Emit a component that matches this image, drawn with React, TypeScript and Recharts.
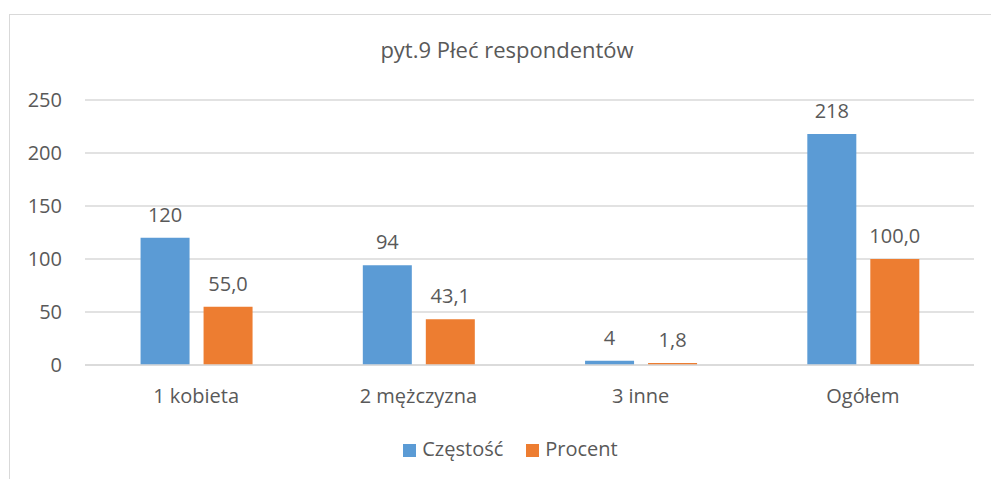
import { BarChart, Bar, XAxis, YAxis, CartesianGrid, Legend, LabelList } from 'recharts'

const categories = ['1 kobieta', '2 mężczyzna', '3 inne', 'Ogółem']
const czestosc = [120, 94, 4, 218]
const procent = [55.0, 43.1, 1.8, 100.0]
const yTicks = [0, 50, 100, 150, 200, 250]

const chartData = categories.map((name, i) => ({ name, czestosc: czestosc[i], procent: procent[i] }))

const FONT = '"Open Sans", sans-serif'
const TEXT = '#595959'

export default function App() {
  return (
    <div style={{ position: 'fixed', left: 0, top: 0, width: 991, height: 479, background: '#fff', overflow: 'hidden', fontFamily: FONT }}>
      <div style={{ position: 'absolute', left: 9, top: 14, width: 1000, height: 500, border: '1px solid #d9d9d9' }} />
      <div style={{ position: 'absolute', left: 0, top: 34, width: 1014, textAlign: 'center', fontSize: 22, color: TEXT }}>
        pyt.9 Płeć respondentów
      </div>
      <BarChart
        width={991}
        height={479}
        data={chartData}
        margin={{ top: 100, right: 17, bottom: 54, left: 0 }}
        barCategoryGap="25%"
        barGap={14}
        style={{ position: 'absolute', left: 0, top: 0 }}
      >
        <CartesianGrid vertical={false} stroke="#d9d9d9" strokeWidth={1.5} />
        <XAxis
          dataKey="name"
          axisLine={{ stroke: '#d9d9d9', strokeWidth: 1.5 }}
          tickLine={false}
          tickMargin={18}
          tick={{ fill: TEXT, fontSize: 20, fontFamily: FONT }}
        />
        <YAxis
          width={85}
          domain={[0, 250]}
          ticks={yTicks}
          axisLine={false}
          tickLine={false}
          tickSize={0}
          tickMargin={23}
          tick={{ fill: TEXT, fontSize: 20, fontFamily: FONT }}
        />
        <Legend
          verticalAlign="bottom"
          iconType="square"
          iconSize={13}
          wrapperStyle={{ top: 434, left: 35, height: 30, overflow: 'visible', fontSize: 20, fontFamily: FONT, lineHeight: '30px' }}
          formatter={(value) => <span style={{ color: TEXT, marginLeft: 2, marginRight: 13 }}>{value}</span>}
        />
        <Bar dataKey="czestosc" name="Częstość" fill="#5B9BD5" isAnimationActive={false}>
          <LabelList dataKey="czestosc" position="top" offset={16} fill={TEXT} fontSize={20} fontFamily={FONT} />
        </Bar>
        <Bar dataKey="procent" name="Procent" fill="#ED7D31" isAnimationActive={false}>
          <LabelList
            dataKey="procent"
            position="top"
            offset={16}
            fill={TEXT}
            fontSize={20}
            fontFamily={FONT}
            formatter={(v: any) => Number(v).toFixed(1).replace('.', ',')}
          />
        </Bar>
      </BarChart>
    </div>
  )
}
